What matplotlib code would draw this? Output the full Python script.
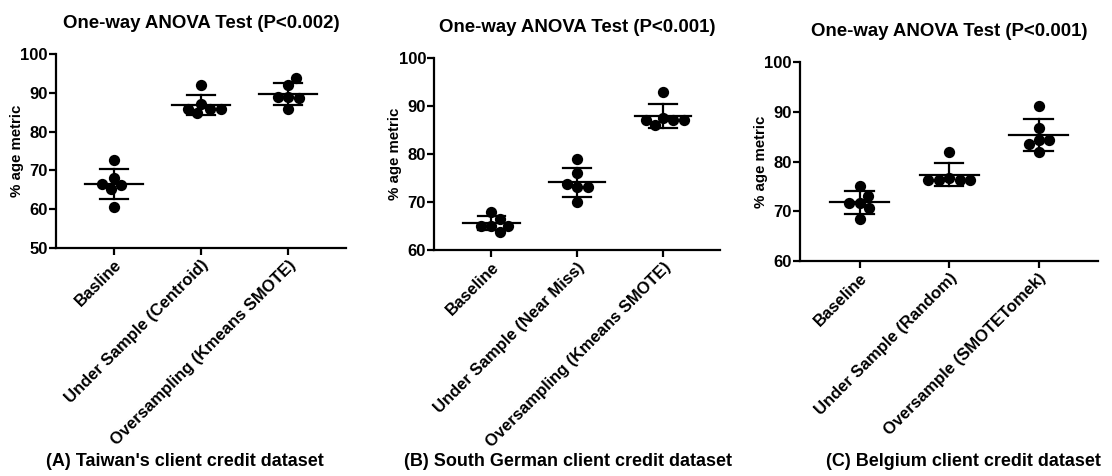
import matplotlib
matplotlib.use("Agg")
import matplotlib.pyplot as plt
import numpy as np

plt.rcParams['font.family'] = ['Liberation Sans', 'DejaVu Sans']
plt.rcParams['font.weight'] = 'bold'

# Panel A - Taiwan
a_labels = ["Basline", "Under Sample (Centroid)", "Oversampling (Kmeans SMOTE)"]
a_baseline = [68.1, 72.7, 66.1, 65.3, 66.4, 60.6]
a_under = [87.2, 92.1, 85.9, 84.7, 85.9, 85.9]
a_over = [92.1, 94.0, 89.0, 88.8, 89.0, 85.8]

# Panel B - South German
b_labels = ["Baseline", "Under Sample (Near Miss)", "Oversampling (Kmeans SMOTE)"]
b_baseline = [65.1, 68.0, 63.7, 65.1, 66.5, 65.1]
b_under = [79.0, 76.0, 73.1, 73.1, 73.8, 70.1]
b_over = [93.0, 87.5, 87.2, 86.1, 87.2, 87.2]

# Panel C - Belgium
c_labels = ["Baseline", "Under Sample (Random)", "Oversample (SMOTETomek)"]
c_baseline = [71.7, 75.1, 73.1, 71.6, 70.7, 68.4]
c_under = [82.0, 76.6, 76.3, 76.3, 76.3, 76.3]
c_over = [91.1, 86.7, 84.3, 84.3, 83.5, 82.0]

titles = ["One-way ANOVA Test (P<0.002)", "One-way ANOVA Test (P<0.001)", "One-way ANOVA Test (P<0.001)"]
captions = ["(A) Taiwan's client credit dataset", "(B) South German client credit dataset",
            "(C) Belgium client credit dataset"]
ylims = [(50, 100), (60, 100), (60, 100)]
yticks = [[50, 60, 70, 80, 90, 100], [60, 70, 80, 90, 100], [60, 70, 80, 90, 100]]


def swarm_offsets(ax, x0, vals, diam):
    # simple beeswarm in pixel space
    trans = ax.transData
    placed = []
    xs = []
    for v in vals:
        px0, py = trans.transform((x0, v))
        cands = [0.0]
        for qx, qy in placed:
            dy = py - qy
            if abs(dy) < diam:
                dx = np.sqrt(diam ** 2 - dy ** 2)
                cands += [qx + dx - px0, qx - dx - px0]
        cands.sort(key=abs)
        for c in cands:
            if all(np.hypot(px0 + c - qx, py - qy) >= diam - 1e-6 for qx, qy in placed):
                break
        placed.append((px0 + c, py))
        xs.append(trans.inverted().transform((px0 + c, py))[0])
    return xs


fig = plt.figure(figsize=(11.12, 4.76), dpi=100)
positions = [[0.0504, 0.4796, 0.2608, 0.4063],
             [0.3906, 0.4748, 0.2569, 0.4027],
             [0.7194, 0.4523, 0.2683, 0.4168]]
panels = [(a_labels, [a_baseline, a_under, a_over]),
          (b_labels, [b_baseline, b_under, b_over]),
          (c_labels, [c_baseline, c_under, c_over])]
cap_x = [185, 568, 963]

for i, (labels, groups) in enumerate(panels):
    ax = fig.add_axes(positions[i])
    ax.set_xlim(-0.667, 2.667)
    ax.set_ylim(*ylims[i])
    for j, g in enumerate(groups):
        g = np.array(g)
        m, sd = g.mean(), g.std(ddof=1)
        xs = swarm_offsets(ax, j, g, 10.5)
        ax.scatter(xs, g, s=66, color="black", zorder=3, linewidths=0)
        ax.plot([j - 0.33, j + 0.33], [m, m], color="black", lw=1.6, zorder=2)
        ax.plot([j, j], [m - sd, m + sd], color="black", lw=1.6, zorder=2)
        ax.plot([j - 0.16, j + 0.16], [m + sd, m + sd], color="black", lw=1.6, zorder=2)
        ax.plot([j - 0.16, j + 0.16], [m - sd, m - sd], color="black", lw=1.6, zorder=2)
    ax.spines['top'].set_visible(False)
    ax.spines['right'].set_visible(False)
    ax.spines['left'].set_linewidth(1.6)
    ax.spines['bottom'].set_linewidth(1.6)
    ax.set_yticks(yticks[i])
    ax.set_xticks([0, 1, 2])
    ax.set_xticklabels(labels, rotation=45, ha='right', rotation_mode='anchor', fontsize=10.7, fontweight='bold')
    ax.tick_params(axis='both', width=1.6, length=5, labelsize=12)
    ax.tick_params(axis='y', pad=1)
    ax.tick_params(axis='x', pad=2)
    ax.set_ylabel("% age metric", fontsize=10.8, fontweight='bold', va='center')
    ax_w = positions[i][2] * 1112
    ax.yaxis.set_label_coords(-39 / ax_w, 0.5)
    ax.set_title(titles[i], fontsize=13.4, fontweight='bold', pad=19)
    fig.text(cap_x[i] / 1112, 1 - 461 / 476, captions[i], ha='center', va='center', fontsize=13, fontweight='bold')

fig.savefig("out.png", dpi=100)
